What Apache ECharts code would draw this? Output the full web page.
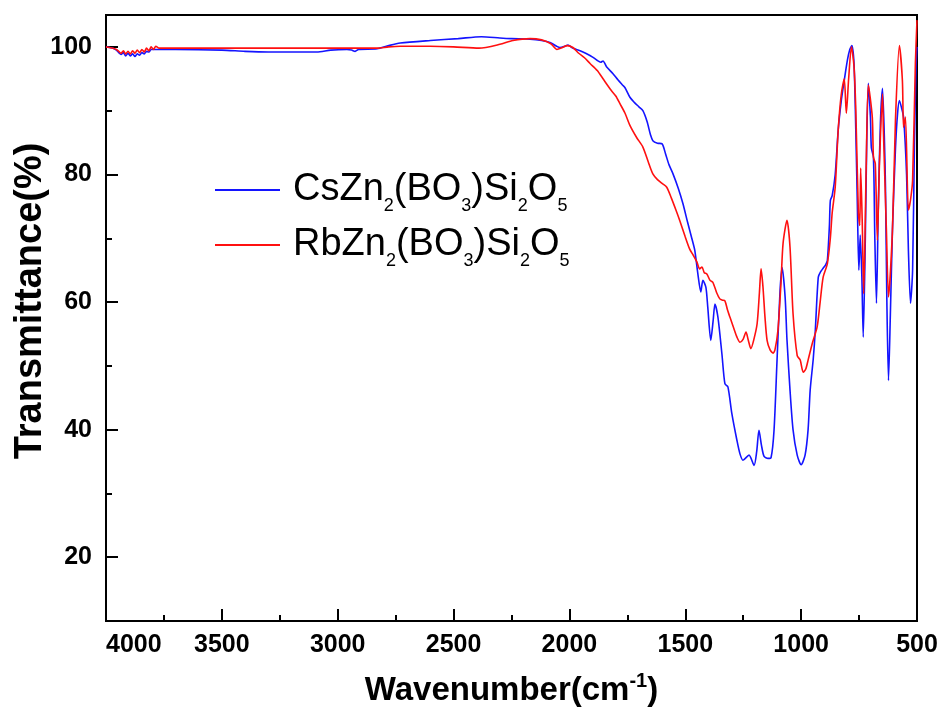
<!DOCTYPE html>
<html>
<head>
<meta charset="utf-8">
<script src="https://cdn.jsdelivr.net/npm/echarts@6/dist/echarts.min.js"></script>
<style>html,body{margin:0;padding:0;background:#fff}#c{width:944px;height:713px}</style>
</head>
<body>
<div id="c"></div>
<script>
// Wavenumber (cm-1) and transmittance (%)
const csWn = [4000,3985,3970,3955,3945,3935,3925,3915,3905,3895,3885,3875,3865,3855,3845,3835,3825,3815,3805,3790,3700,3500,3400,3300,3200,3090,3030,2960,2940,2925,2910,2830,2780,2730,2600,2480,2380,2300,2250,2170,2120,2084,2055,2041,2020,2006,1990,1970,1954,1930,1900,1881,1865,1855,1840,1812,1790,1770,1760,1739,1720,1700,1683,1665,1650,1640,1620,1600,1585,1570,1553,1530,1510,1490,1472,1459,1446,1433,1424,1411,1403,1390,1380,1372,1359,1342,1329,1316,1299,1277,1264,1251,1225,1203,1192,1182,1171,1160,1143,1130,1117,1104,1091,1082,1069,1061,1048,1035,1017,1000,983,970,961,948,939,926,915,905,895,887,878,874,866,853,840,827,815,800,790,781,772,766,758,751,745,738,732,723,717,710,701,697,688,682,675,667,658,649,641,636,630,623,615,606,593,584,576,567,558,545,537,528,519,511,504,500];
const csT = [100.0,99.9,99.8,99.5,99.1,98.8,99.1,98.6,99.0,98.6,98.9,98.5,98.9,98.7,99.1,98.9,99.3,99.2,99.6,99.6,99.6,99.5,99.3,99.2,99.2,99.2,99.5,99.6,99.5,99.3,99.6,99.7,100.2,100.6,101.0,101.3,101.6,101.4,101.3,101.2,101.0,100.7,100.1,99.9,100.1,100.3,99.9,99.6,99.4,99.0,98.4,97.9,97.6,97.8,96.9,95.8,94.8,94.0,93.6,92.1,91.3,90.6,90.0,88.3,86.2,85.3,84.9,84.8,83.2,81.5,80.1,77.8,75.4,72.5,70.0,68.1,64.5,61.6,63.4,62.3,59.2,54.0,57.0,59.7,57.6,51.9,47.2,46.7,42.5,38.3,36.2,35.2,36.0,34.4,36.5,39.9,37.5,35.8,35.5,35.6,39.9,50.9,61.8,65.4,60.7,54.0,46.2,40.0,36.0,34.5,36.0,40.0,46.2,51.0,55.5,63.9,64.8,65.3,65.8,66.5,72.0,75.9,76.7,80.0,87.0,91.5,94.5,98.0,99.6,100.2,97.5,90.0,76.4,65.0,70.5,64.0,54.5,70.0,85.0,94.3,89.0,84.2,82.7,70.0,59.8,75.0,88.0,93.5,86.0,78.0,60.0,47.7,58.0,71.2,84.0,89.5,91.6,90.5,89.0,80.0,68.0,59.8,65.0,85.0,97.0,100.0];

const rbWn = [4000,3985,3970,3955,3945,3935,3925,3915,3905,3895,3885,3875,3865,3855,3845,3835,3825,3815,3805,3795,3785,3770,3500,3000,2830,2780,2730,2600,2500,2390,2300,2244,2170,2120,2080,2054,2030,2010,1985,1960,1935,1911,1880,1855,1820,1800,1782,1760,1739,1710,1683,1660,1640,1620,1600,1580,1560,1540,1524,1500,1481,1465,1450,1438,1428,1418,1407,1393,1381,1365,1351,1340,1329,1318,1307,1290,1277,1264,1250,1238,1228,1217,1205,1190,1180,1173,1165,1156,1147,1134,1121,1113,1100,1087,1078,1061,1048,1035,1017,1004,991,980,970,952,931,918,905,887,874,866,853,840,827,814,805,795,783,772,764,753,747,743,736,730,719,710,693,688,680,671,662,649,645,632,623,606,593,576,563,558,550,537,528,519,507,500];
const rbT = [100.0,99.9,99.8,99.6,99.3,99.0,99.4,98.9,99.3,98.9,99.4,99.0,99.5,99.1,99.6,99.2,99.8,99.4,100.0,99.6,100.1,99.8,99.8,99.8,99.8,100.0,100.1,100.1,100.0,99.8,100.4,101.0,101.3,101.1,100.5,99.6,99.9,100.2,99.9,99.0,98.3,97.4,96.3,95.0,93.2,92.3,91.1,89.6,87.7,85.8,84.3,82.0,80.1,79.2,78.6,78.0,76.3,74.4,72.8,70.2,68.3,67.3,66.3,65.2,65.5,64.6,64.4,63.4,63.1,61.5,60.5,60.3,60.2,58.8,57.6,55.8,54.5,53.7,54.2,55.3,54.0,52.7,54.0,56.6,61.5,65.2,62.5,57.6,54.0,52.5,52.0,52.5,55.6,63.0,69.2,72.8,68.6,58.2,51.6,50.9,49.0,49.5,50.9,53.5,56.1,60.0,63.9,66.0,70.0,74.0,78.0,87.0,92.5,95.0,89.6,95.0,100.0,97.0,90.0,74.0,72.0,81.0,72.0,61.3,81.7,94.0,89.0,82.7,81.7,69.7,81.7,92.6,86.9,71.2,60.8,71.2,88.5,100.2,94.7,87.4,89.0,74.4,76.0,79.1,97.4,104.2];

const xTicks = [500,1000,1500,2000,2500,3000,3500,4000];
const yTicks = [20,40,60,80,100];
const yMinorTicks = [30,50,70,90];
const seriesNames = ['CsZn2(BO3)Si2O5','RbZn2(BO3)Si2O5'];

const FONT = '"Liberation Sans", Arial, sans-serif';
const chart = echarts.init(document.getElementById('c'), null, {renderer:'canvas'});

function legendFmt(name){
  const m = name.match(/^(Cs|Rb)/)[1];
  return '{m|' + m + 'Zn}{s|2}{m|(BO}{s|3}{m|)Si}{s|2}{m|O}{s|5}';
}

chart.setOption({
  animation:false,
  backgroundColor:'#fff',
  grid:{left:106,right:27,top:15,bottom:92,show:true,borderColor:'#000',borderWidth:2,backgroundColor:'transparent',
        containLabel:false, outerBoundsMode:'none'},
  legend:{
    orient:'vertical', left:215, top:171, itemGap:11, itemWidth:65, itemHeight:2, padding:0,
    icon:'rect',
    data: seriesNames,
    formatter: legendFmt,
    textStyle:{
      fontFamily:FONT, color:'#000', padding:[0,0,0,8],
      rich:{
        m:{fontSize:38, lineHeight:50, fontFamily:FONT, color:'#000'},
        s:{fontSize:18, lineHeight:10, verticalAlign:'bottom', fontFamily:FONT, color:'#000'}
      }
    }
  },
  xAxis:{
    type:'value', min:500, max:4000, interval:500, inverse:true,
    name:'{m|Wavenumber(cm}{sup|-1}{m|)}', nameLocation:'middle', nameGap:50,
    nameTextStyle:{
      rich:{
        m:{fontSize:33, fontWeight:'bold', fontFamily:FONT, color:'#000', lineHeight:40},
        sup:{fontSize:20, fontWeight:'bold', fontFamily:FONT, color:'#000', lineHeight:14, verticalAlign:'top'}
      }
    },
    axisLine:{show:true, onZero:false, lineStyle:{color:'#000', width:2}},
    axisTick:{show:true, inside:true, length:12, lineStyle:{color:'#000', width:2}},
    minorTick:{show:true, splitNumber:2, length:6, lineStyle:{color:'#000', width:2}},
    splitLine:{show:false},
    axisLabel:{fontSize:25, fontWeight:'bold', fontFamily:FONT, color:'#000', margin:12, alignMaxLabel:'left',
      customValues: xTicks, formatter: v => String(v)}
  },
  yAxis:[{
    type:'value', min:10, max:105, interval:10,
    name:'Transmittance(%)', nameLocation:'middle', nameGap:56, nameRotate:90, nameMoveOverlap:false,
    nameTextStyle:{fontSize:38, fontWeight:'bold', fontFamily:FONT, color:'#000', padding:[0,0,0,34]},
    axisLine:{show:true, onZero:false, lineStyle:{color:'#000', width:2}},
    axisTick:{show:true, inside:true, length:12, lineStyle:{color:'#000', width:2}, customValues:yTicks},
    splitLine:{show:false},
    axisLabel:{fontSize:25, fontWeight:'bold', fontFamily:FONT, color:'#000', margin:14, customValues:yTicks,
      formatter: v => String(v)}
  },{
    type:'value', min:10, max:105, interval:10, position:'left',
    axisLine:{show:false},
    axisTick:{show:true, inside:true, length:6, lineStyle:{color:'#000', width:2}, customValues:yMinorTicks},
    splitLine:{show:false},
    axisLabel:{show:false}
  }],
  series:[
    {name:seriesNames[0], type:'line', showSymbol:false, symbol:'none', smooth:0.25,
     lineStyle:{color:'#1414ff', width:1.6}, itemStyle:{color:'#1414ff'},
     data: csWn.map((w,i)=>[w, csT[i]])},
    {name:seriesNames[1], type:'line', showSymbol:false, symbol:'none', smooth:0.25,
     lineStyle:{color:'#ff1010', width:1.6}, itemStyle:{color:'#ff1010'},
     data: rbWn.map((w,i)=>[w, rbT[i]])}
  ]
});
</script>
</body>
</html>
